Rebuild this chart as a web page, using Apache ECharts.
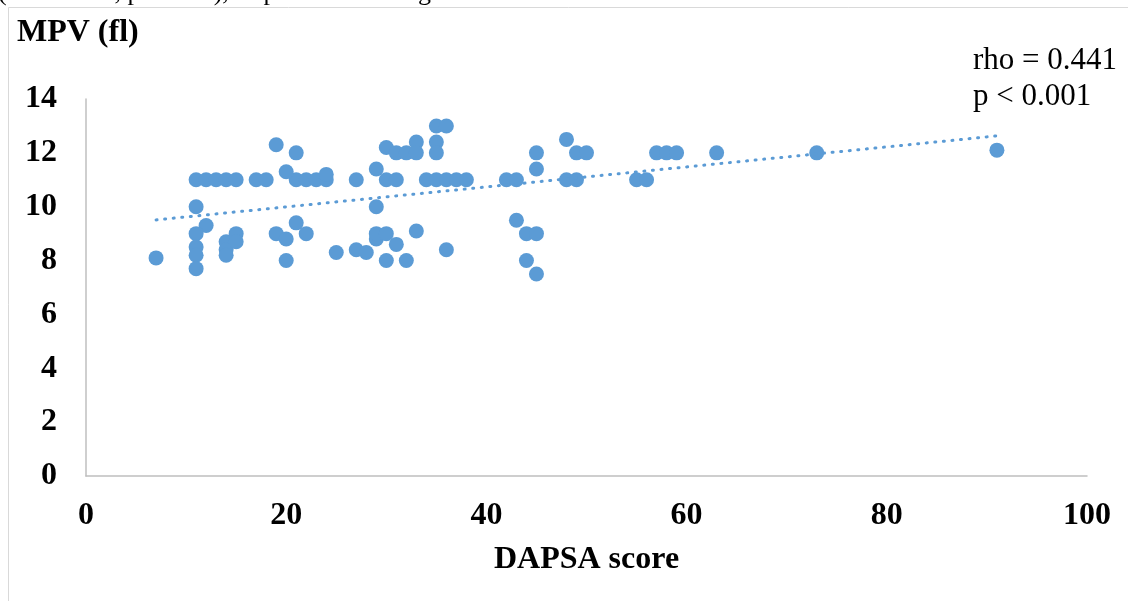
<!DOCTYPE html>
<html>
<head>
<meta charset="utf-8">
<script src="https://cdn.jsdelivr.net/npm/echarts@6/dist/echarts.min.js"></script>
<style>
html,body{margin:0;padding:0;background:#fff;}
#chart{width:1128px;height:601px;}
</style>
</head>
<body>
<div id="chart"></div>
<script>
// DAPSA score (x) and MPV (fl) (y) per patient
const dapsa = [
  7,
  11, 12, 13, 14, 15, 17, 18, 21, 22, 23, 24, 27,
  24, 19, 21, 20,
  11, 12, 11, 11, 11, 11,
  14, 14, 14, 15, 15,
  19, 20, 20, 21, 22, 25, 27, 28,
  29, 29, 30, 31, 30, 31, 32, 33, 33, 35, 36, 35, 35,
  34, 35, 36, 37, 38,
  29, 29, 30, 31, 30, 32, 33, 36,
  42, 43, 43, 44, 45, 44, 45, 45, 45,
  48, 48, 49, 49, 50,
  55, 56, 57, 58, 59, 63, 73, 91
];
const mpv = [
  8.1,
  11, 11, 11, 11, 11, 11, 11, 11, 11, 11, 11, 11,
  11.2, 12.3, 12.0, 11.3,
  10.0, 9.3, 9.0, 8.5, 8.2, 7.7,
  8.7, 8.4, 8.2, 9.0, 8.7,
  9.0, 8.8, 8.0, 9.4, 9.0, 8.3, 8.4, 8.3,
  11.4, 10.0, 11, 11, 12.2, 12.0, 12.0, 12.4, 12.0, 13.0, 13.0, 12.4, 12.0,
  11, 11, 11, 11, 11,
  8.8, 9.0, 8.0, 8.6, 9.0, 8.0, 9.1, 8.4,
  11, 11, 9.5, 9.0, 9.0, 8.0, 7.5, 12.0, 11.4,
  12.5, 11, 11, 12.0, 12.0,
  11, 11, 12, 12, 12, 12, 12, 12.1
];
// dotted linear trendline, end points
const trendX = [7, 91];
const trendY = [9.51, 12.63];
const xTicks = [0, 20, 40, 60, 80, 100];
const yTicks = [0, 2, 4, 6, 8, 10, 12, 14];

const points = dapsa.map((x, i) => [x, mpv[i]]);
const trend = trendX.map((x, i) => [x, trendY[i]]);

const FONT = '"Liberation Serif", "Times New Roman", serif';
const chart = echarts.init(document.getElementById('chart'), null, {renderer: 'canvas'});
chart.setOption({
  animation: false,
  backgroundColor: '#ffffff',
  title: {
    text: 'MPV (fl)',
    left: 12,
    top: 12,
    textStyle: {fontFamily: FONT, fontWeight: 'bold', fontSize: 32, color: '#000'}
  },
  graphic: [
    {type: 'rect', shape: {x: 8.5, y: 7.5, width: 1300, height: 800},
     style: {fill: 'none', stroke: '#d9d9d9', lineWidth: 1}, silent: true},
    {type: 'text', left: -2, top: -20,
     style: {text: '(rho=0.441, p<0.001), as presented in Figure 1.', font: '26px ' + FONT, fill: '#000'}},
    {type: 'text', x: 973, y: 61,
     style: {text: 'rho = 0.441', font: '31px ' + FONT, fill: '#000', verticalAlign: 'middle'}},
    {type: 'text', x: 973, y: 97,
     style: {text: 'p < 0.001', font: '31px ' + FONT, fill: '#000', verticalAlign: 'middle'}}
  ],
  grid: {left: 86, right: 41, top: 99, bottom: 125, outerBoundsMode: 'none'},
  xAxis: {
    type: 'value',
    min: xTicks[0], max: xTicks[xTicks.length - 1], interval: xTicks[1] - xTicks[0],
    name: 'DAPSA score', nameLocation: 'middle', nameGap: 68,
    nameTextStyle: {fontFamily: FONT, fontWeight: 'bold', fontSize: 32, color: '#000'},
    axisLine: {show: true, onZero: false, lineStyle: {color: '#bfbfbf', width: 1.5}},
    axisTick: {show: false},
    splitLine: {show: false},
    axisLabel: {margin: 24, fontFamily: FONT, fontWeight: 'bold', fontSize: 32, color: '#000'}
  },
  yAxis: {
    type: 'value',
    min: yTicks[0], max: yTicks[yTicks.length - 1], interval: yTicks[1] - yTicks[0],
    axisLine: {show: true, onZero: false, lineStyle: {color: '#bfbfbf', width: 1.5}},
    axisTick: {show: false},
    splitLine: {show: false},
    axisLabel: {margin: 29, fontFamily: FONT, fontWeight: 'bold', fontSize: 32, color: '#000'}
  },
  series: [
    {
      type: 'scatter',
      data: points,
      symbol: 'circle',
      symbolSize: 15,
      itemStyle: {color: '#5B9BD5', opacity: 1},
      z: 3
    },
    {
      type: 'line',
      data: trend,
      showSymbol: false,
      symbol: 'none',
      lineStyle: {color: '#5B9BD5', width: 3, type: [1, 7.6], cap: 'round'},
      z: 4
    }
  ]
});
</script>
</body>
</html>
